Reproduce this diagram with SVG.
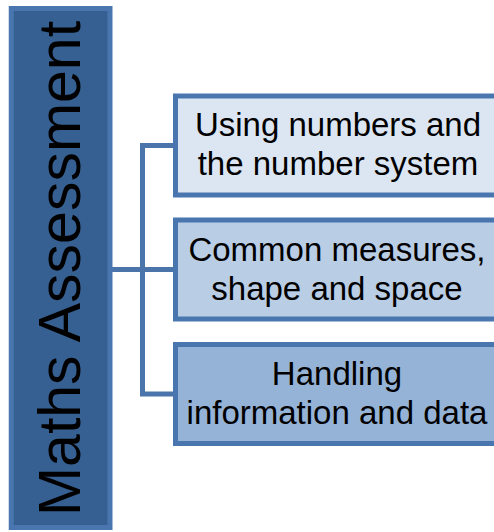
<svg xmlns="http://www.w3.org/2000/svg" width="494" height="532" viewBox="0 0 494 532">
<style>
.box{stroke:#4a76b0;stroke-width:5}
.conn{fill:none;stroke:#4a74aa;stroke-width:5;stroke-linejoin:miter}
.t{font-family:"Liberation Sans",Arial,sans-serif;font-size:33px;fill:#000;text-anchor:middle}
.main{font-family:"Liberation Sans",Arial,sans-serif;font-size:59px;fill:#000;text-anchor:middle}
</style>
<rect width="494" height="532" fill="#ffffff"/>
<g id="connectors">
<path class="conn" d="M174 145.5 H142.5 V394 H174"/>
<path class="conn" d="M112 269.5 H174"/>
</g>
<g id="root">
<rect class="box" x="11.25" y="8.5" width="98.75" height="519" fill="#376092"/>
<text class="main" transform="translate(80 268.5) rotate(-90)">Maths Assessment</text>
</g>
<g id="node1">
<rect class="box" x="175.5" y="96" width="340" height="99" fill="#dce6f2"/>
<text class="t" x="338" y="136">Using numbers and</text>
<text class="t" x="338" y="175">the number system</text>
</g>
<g id="node2">
<rect class="box" x="175.5" y="220" width="340" height="99" fill="#b9cde5"/>
<text class="t" x="337" y="260.5">Common measures,</text>
<text class="t" x="337" y="299.5">shape and space</text>
</g>
<g id="node3">
<rect class="box" x="175.5" y="344.5" width="340" height="99" fill="#95b3d7"/>
<text class="t" x="337" y="385">Handling</text>
<text class="t" x="337" y="424">information and data</text>
</g>
</svg>
